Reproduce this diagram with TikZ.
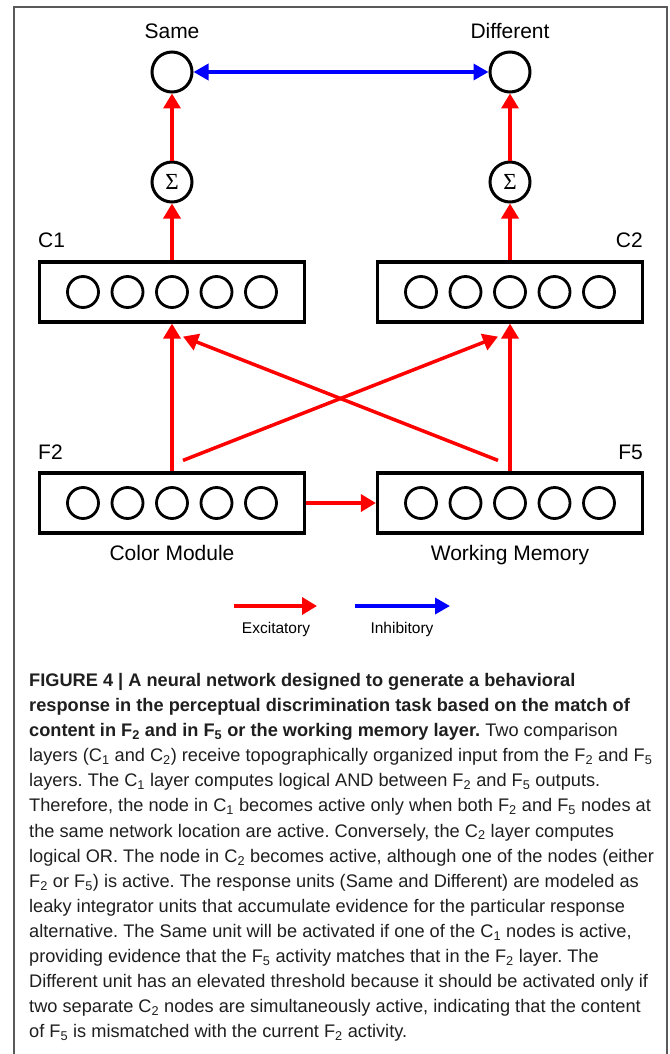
\documentclass[tikz,border=0pt]{standalone}
\usepackage{fontspec}
\setmainfont{Liberation Sans}
\newfontfamily\sigmafont{Liberation Serif}
\usetikzlibrary{arrows.meta,calc}
\definecolor{captext}{gray}{0.12}
\definecolor{framegray}{gray}{0.35}
\frenchspacing
\begin{document}
\begin{tikzpicture}[x=1pt,y=-1pt,
  layerbox/.style={draw=black, line width=3.2pt, minimum width=265pt, minimum height=60pt, inner sep=0pt},
  unit/.style={circle, draw=black, line width=2.8pt, minimum size=31pt, inner sep=0pt},
  resp/.style={circle, draw=black, line width=3pt, minimum size=40pt, inner sep=0pt},
  lbl/.style={font=\fontsize{21}{21}\selectfont, inner sep=0pt},
  leglbl/.style={font=\fontsize{15.5}{15.5}\selectfont, inner sep=0pt},
  exc/.style={draw=red, line width=3.5pt, -{Triangle[length=15pt,width=17pt]}, red},
  inh/.style={draw=blue, line width=3.5pt, blue},
]
\useasboundingbox (0,0) rectangle (669,1054);
\fill[white] (0,0) rectangle (669,1054);
% frame
\draw[framegray, line width=1.8pt] (14,1070) -- (14,7) -- (667,7) -- (667,1070);

% response units
\node[resp] (same) at (172,72) {};
\node[resp] (diff) at (510,72) {};
\node[lbl, anchor=base] (sameL) at (172,39) {Same};
\node[lbl, anchor=base] (diffL) at (510,39) {Different};

% summation units
\node[resp] (sig1) at (172,182) {\sigmafont\fontsize{23}{23}\selectfont Σ};
\node[resp] (sig2) at (510,182) {\sigmafont\fontsize{23}{23}\selectfont Σ};

% layers
\node[layerbox] (C1) at (172,292) {};
\node[layerbox] (C2) at (510,292) {};
\node[layerbox] (F2) at (172,503) {};
\node[layerbox] (F5) at (510,503) {};
\foreach \L in {C1,C2,F2,F5}{
  \foreach \i in {1,...,5}{
    \node[unit] (\L u\i) at ($(\L)+({44.5*(\i-3)},0)$) {};
  }
}

% layer labels
\node[lbl, anchor=base west] (C1L) at (38,247) {C1};
\node[lbl, anchor=base east] (C2L) at (643,247) {C2};
\node[lbl, anchor=base west] (F2L) at (38,459) {F2};
\node[lbl, anchor=base east] (F5L) at (643,459) {F5};
\node[lbl, anchor=base] (cmL) at (172,560) {Color Module};
\node[lbl, anchor=base] (wmL) at (510,560) {Working Memory};

% connectors
\draw[inh, {Triangle[length=15pt,width=16pt]}-{Triangle[length=15pt,width=16pt]}] (same) -- (diff);
\draw[exc] (sig1) -- (same);
\draw[exc] (sig2) -- (diff);
\draw[exc] (C1) -- (sig1);
\draw[exc] (C2) -- (sig2);
\draw[exc] (F2) -- (C1);
\draw[exc] (F5) -- (C2);
\draw[exc] (F2) -- (F5);
\draw[exc] ($(F2.north)+(11,-11)$) -- ($(C2.south)+(-12,13)$);
\draw[exc] ($(F5.north)+(-12,-11)$) -- ($(C1.south)+(11,13)$);

% legend
\coordinate (ex1) at (234,606);
\coordinate (ex2) at (317,606);
\coordinate (in1) at (355,606);
\coordinate (in2) at (450,606);
\draw[exc] (ex1) -- (ex2);
\draw[inh, -{Triangle[length=15pt,width=16pt]}] (in1) -- (in2);
\node[leglbl, anchor=base] (exL) at (276,633) {Excitatory};
\node[leglbl, anchor=base] (inL) at (402,633) {Inhibitory};

% caption
\node[anchor=north west, inner sep=0pt, align=left, text=captext,
      font=\fontsize{18.2}{25.1}\selectfont] (cap) at (29,673) {%
\textbf{FIGURE 4 | A neural network designed to generate a behavioral}\\
\textbf{response in the perceptual discrimination task based on the match of}\\
\textbf{content in F\textsubscript{2} and in F\textsubscript{5} or the working memory layer.} Two comparison\\
layers (C\textsubscript{1} and C\textsubscript{2}) receive topographically organized input from the F\textsubscript{2} and F\textsubscript{5}\\
layers. The C\textsubscript{1} layer computes logical AND between F\textsubscript{2} and F\textsubscript{5} outputs.\\
Therefore, the node in C\textsubscript{1} becomes active only when both F\textsubscript{2} and F\textsubscript{5} nodes at\\
the same network location are active. Conversely, the C\textsubscript{2} layer computes\\
logical OR. The node in C\textsubscript{2} becomes active, although one of the nodes (either\\
F\textsubscript{2} or F\textsubscript{5}) is active. The response units (Same and Different) are modeled as\\
leaky integrator units that accumulate evidence for the particular response\\
alternative. The Same unit will be activated if one of the C\textsubscript{1} nodes is active,\\
providing evidence that the F\textsubscript{5} activity matches that in the F\textsubscript{2} layer. The\\
Different unit has an elevated threshold because it should be activated only if\\
two separate C\textsubscript{2} nodes are simultaneously active, indicating that the content\\
of F\textsubscript{5} is mismatched with the current F\textsubscript{2} activity.};
\end{tikzpicture}
\end{document}
